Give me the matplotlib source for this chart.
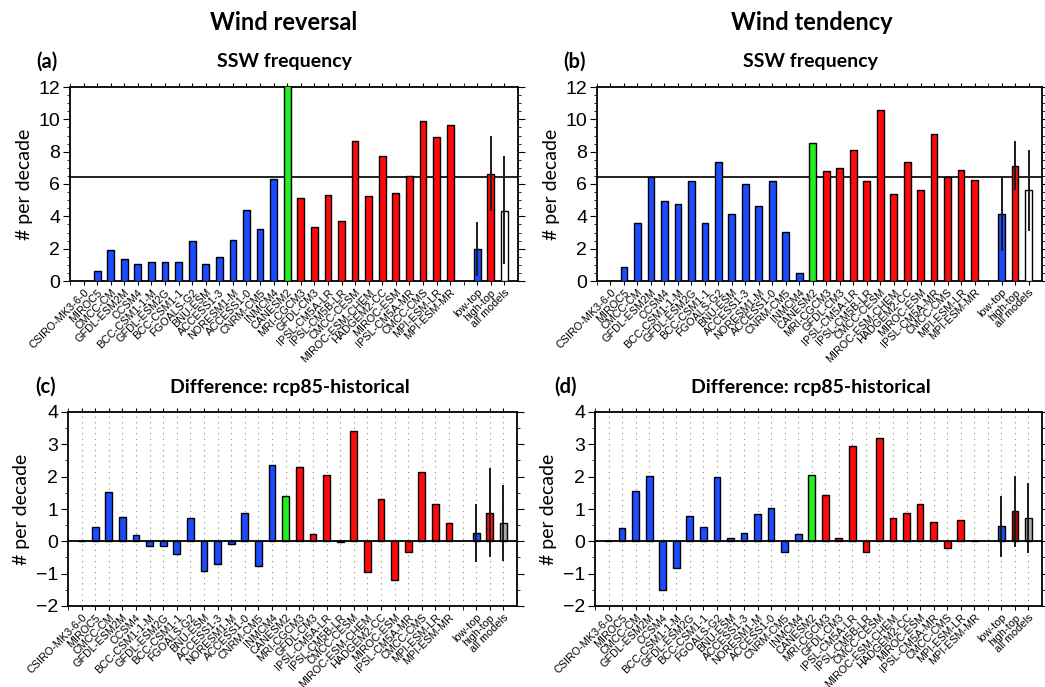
import matplotlib
matplotlib.use("Agg")
import matplotlib.pyplot as plt
import numpy as np
from matplotlib.ticker import MultipleLocator

# ---------------- data ----------------
models = ["CSIRO-MK3-6-0", "MIROC5", "CMCC-CM", "GFDL-ESM2M", "CCSM4", "BCC-CSM1-1-M",
          "GFDL-ESM2G", "BCC-CSM1-1", "FGOALS-G2", "BNU-ESM", "ACCESS1-3", "NORESM1-M",
          "ACCESS1-0", "CNRM-CM5", "INMCM4", "CANESM2", "MRI-CGCM3", "GFDL-CM3",
          "IPSL-CM5A-LR", "IPSL-CM5B-LR", "CMCC-CESM", "MIROC-ESM-CHEM", "HADGEM2-CC",
          "MIROC-ESM", "IPSL-CM5A-MR", "CMCC-CMS", "MPI-ESM-LR", "MPI-ESM-MR"]
model_type = ["low"] * 15 + ["mid"] + ["high"] * 12
groups = ["low-top", "high-top", "all models"]

# (a) wind reversal, SSW frequency
rev_freq = [0.0, 0.64, 1.9, 1.37, 1.07, 1.17, 1.17, 1.17, 2.46, 1.07, 1.48, 2.56, 4.39, 3.2,
            6.34, 12.5, 5.13, 3.32, 5.35, 3.73, 8.68, 5.25, 7.71, 5.46, 6.52, 9.87, 8.88, 9.66]
rev_freq_grp = [2.0, 6.63, 4.35]
rev_freq_lo = [0.37, 4.37, 1.09]
rev_freq_hi = [3.59, 8.88, 7.65]
rev_ref = 6.42

# (b) wind tendency, SSW frequency
ten_freq = [0.0, 0.88, 3.59, 6.46, 4.96, 4.76, 6.17, 3.59, 7.34, 4.12, 6.03, 4.66, 6.17, 3.06,
            0.47, 8.51, 6.81, 7.0, 8.08, 6.17, 10.56, 5.39, 7.34, 5.62, 9.07, 6.46, 6.89, 6.26]
ten_freq_grp = [4.16, 7.14, 5.6]
ten_freq_lo = [1.91, 5.70, 3.14]
ten_freq_hi = [6.46, 8.62, 8.04]
ten_ref = 6.46

# (c) wind reversal, difference rcp85-historical
rev_diff = [0.0, 0.43, 1.52, 0.74, 0.2, -0.15, -0.15, -0.38, 0.71, -0.93, -0.71, -0.09, 0.87,
            -0.77, 2.36, 1.39, 2.29, 0.24, 2.06, -0.02, 3.4, -0.96, 1.32, -1.19, -0.33, 2.13,
            1.16, 0.58]
rev_diff_grp = [0.25, 0.89, 0.57]
rev_diff_lo = [-0.62, -0.44, -0.59]
rev_diff_hi = [1.11, 2.24, 1.70]

# (d) wind tendency, difference rcp85-historical
ten_diff = [0.0, 0.42, 1.56, 2.01, -1.5, -0.83, 0.79, 0.44, 1.99, 0.09, 0.25, 0.86, 1.02, -0.33,
            0.22, 2.06, 1.44, 0.11, 2.96, -0.32, 3.21, 0.72, 0.88, 1.15, 0.59, -0.21, 0.67, 0.02]
ten_diff_grp = [0.47, 0.94, 0.73]
ten_diff_lo = [-0.45, -0.14, -0.32]
ten_diff_hi = [1.38, 2.0, 1.76]

# ---------------- style ----------------
BLUE = "#1c4cff"
RED = "#ff0a0a"
GREEN = "#22ee22"
DARKRED = "#b80000"
GRAY = "#a9a9a9"
type_color = {"low": BLUE, "mid": GREEN, "high": RED}

plt.rcParams["font.family"] = ["Liberation Sans", "DejaVu Sans"]
TITLE_FONT = ["Lato", "DejaVu Sans"]

W, H = 1045, 687
fig = plt.figure(figsize=(W / 100, H / 100), dpi=100)


def box(l, t, r, b):
    return [l / W, 1 - b / H, (r - l) / W, (b - t) / H]


pos_models = np.arange(len(models))
pos_groups = np.arange(len(models) + 1, len(models) + 1 + len(groups))


def draw(ax, vals, grp, lo, hi, grp_colors, ylim, major, ref=None, grid=False):
    cols = [type_color[t] for t in model_type]
    ax.bar(pos_models, vals, width=0.5, color=cols, edgecolor="black", linewidth=1.0, zorder=3)
    ax.bar(pos_groups, grp, width=0.5, color=grp_colors, edgecolor="black", linewidth=1.0, zorder=3)
    for x, l, h in zip(pos_groups, lo, hi):
        ax.plot([x, x], [l, h], color="#1a1a1a", lw=1.4, zorder=4)
    ax.set_xlim(-1, len(models) + len(groups) + 1)
    ax.set_ylim(*ylim)
    ax.yaxis.set_major_locator(MultipleLocator(major))
    ax.yaxis.set_minor_locator(MultipleLocator(0.5))
    ticks = list(pos_models) + list(pos_groups)
    ax.set_xticks(ticks)
    ax.set_xticklabels(models + groups, rotation=45, ha="right", rotation_mode="anchor",
                       fontsize=7.8)
    ax.set_xticks(np.arange(-1, len(models) + len(groups) + 1), minor=True)
    ax.tick_params(axis="x", which="both", top=True, direction="out", length=3, pad=1.5)
    ax.tick_params(axis="y", which="major", right=True, direction="out", length=5,
                   labelsize=14, pad=2)
    ax.tick_params(axis="y", which="minor", right=True, direction="out", length=2.5)
    for s in ax.spines.values():
        s.set_linewidth(1.3)
    if ref is not None:
        ax.axhline(ref, color="#222222", lw=1.4, zorder=2)
    if grid:
        for x in range(0, len(models) + len(groups) + 1):
            ax.axvline(x, color="#888888", lw=0.8, ls=(0, (1, 4)), zorder=1)
        ax.axhline(0, color="black", lw=1.3, zorder=4)
    ax.set_ylabel("# per decade", fontsize=14, labelpad=4, family=TITLE_FONT)


axa = fig.add_axes(box(70, 87, 518, 281))
draw(axa, rev_freq, rev_freq_grp, rev_freq_lo, rev_freq_hi, [BLUE, RED, "white"], (0, 12), 2,
     ref=rev_ref)
axb = fig.add_axes(box(597, 87, 1042, 281))
draw(axb, ten_freq, ten_freq_grp, ten_freq_lo, ten_freq_hi, [BLUE, RED, "white"], (0, 12), 2,
     ref=ten_ref)
axc = fig.add_axes(box(68, 412, 517, 606))
draw(axc, rev_diff, rev_diff_grp, rev_diff_lo, rev_diff_hi, [BLUE, RED, GRAY], (-2, 4), 1,
     grid=True)
axd = fig.add_axes(box(595, 412, 1042, 606))
draw(axd, ten_diff, ten_diff_grp, ten_diff_lo, ten_diff_hi, [BLUE, DARKRED, GRAY], (-2, 4), 1,
     grid=True)


def ftext(x, y, s, size, ha="center"):
    fig.text(x / W, 1 - y / H, s, fontsize=size, fontweight="bold", ha=ha, va="center",
             family=TITLE_FONT)


ftext(284, 22, "Wind reversal", 17)
ftext(812, 22, "Wind tendency", 17)
ftext(36, 62, "(a)", 14.5, ha="left")
ftext(284, 62, "SSW frequency", 14)
ftext(563, 62, "(b)", 14.5, ha="left")
ftext(810, 62, "SSW frequency", 14)
ftext(35, 387, "(c)", 14.5, ha="left")
ftext(290, 387, "Difference: rcp85-historical", 14)
ftext(554, 387, "(d)", 14.5, ha="left")
ftext(811, 387, "Difference: rcp85-historical", 14)

fig.savefig("out.png", dpi=100)
